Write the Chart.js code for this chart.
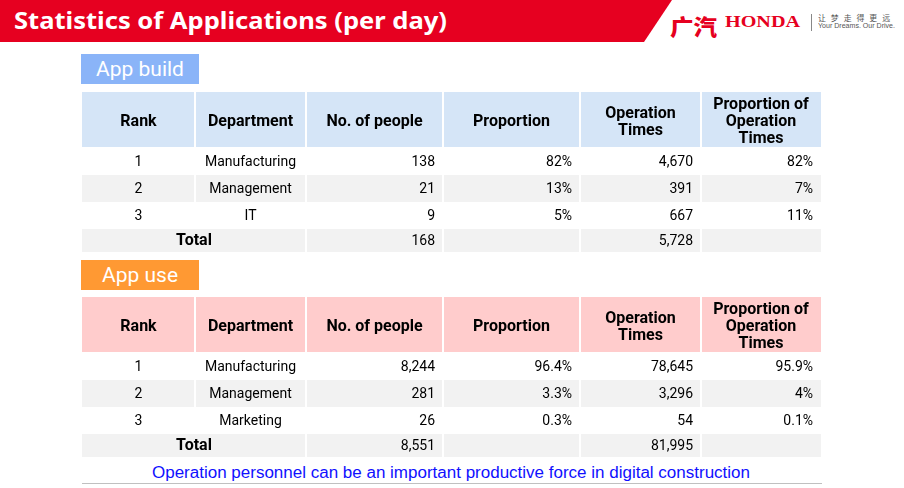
<!DOCTYPE html>
<html><head><meta charset="utf-8">
<script src="https://cdn.jsdelivr.net/npm/chart.js@4.4.1/dist/chart.umd.min.js"></script>
<style>
html,body{margin:0;padding:0;background:#fff;}
body{width:904px;height:488px;overflow:hidden;position:relative;font-family:Roboto,"Noto Sans",sans-serif;}
.abs{position:absolute;white-space:nowrap;}
#redbar{left:0;top:0;width:904px;height:42px;background:#E60020;clip-path:polygon(0 0,672px 0,644px 42px,0 42px);}
#title{left:14px;top:4px;color:#fff;font:bold 23px "Noto Sans",sans-serif;transform-origin:left top;}
#gac{left:670px;top:9px;color:#E60020;font:900 22px "Noto Sans CJK SC";transform-origin:left top;}
#honda{left:725px;top:12px;color:#E60020;font:bold 17px "Liberation Serif";transform-origin:left top;}
#sep{left:811px;top:14px;width:1px;height:17px;background:#888;}
#slog1{left:818px;top:12px;color:#555;font:8px "Noto Sans CJK SC";letter-spacing:5px;transform-origin:left top;}
#slog2{left:818px;top:22px;color:#555;font:7px "Liberation Sans";transform-origin:left top;}
.lab{left:81px;width:118px;height:30px;color:#fff;font:21px Roboto;text-align:center;line-height:30px;}
#lab1{top:54px;background:#8AB4F8;}
#lab2{top:260px;background:#FF9933;}
#foot{left:152px;top:464px;color:#1010FF;font:16px "Liberation Sans";transform-origin:left top;}
#footline{left:82px;top:483px;width:740px;height:1px;background:#C0C0C0;}
.tbl{left:82px;}
#t1{top:92px;}
#t2{top:297px;}
</style></head>
<body>
<div id="redbar" class="abs"></div>
<div id="title" class="abs">Statistics of Applications (per day)</div>
<div id="gac" class="abs">广汽</div>
<div id="honda" class="abs">HONDA</div>
<div id="sep" class="abs"></div>
<div id="slog1" class="abs">让梦走得更远</div>
<div id="slog2" class="abs">Your Dreams. Our Drive.</div>
<div id="lab1" class="abs lab">App build</div>
<div id="lab2" class="abs lab">App use</div>
<div id="t1" class="abs tbl"><canvas id="c1" width="739" height="160"></canvas></div>
<div id="t2" class="abs tbl"><canvas id="c2" width="739" height="160"></canvas></div>
<div id="foot" class="abs">Operation personnel can be an important productive force in digital construction</div>
<div id="footline" class="abs"></div>
<script>
// ---- data ----
const columns = ['Rank', 'Department', 'No. of people', 'Proportion', 'Operation\nTimes', 'Proportion of\nOperation\nTimes'];
const ranks = ['1', '2', '3'];
const totalLabel = 'Total';

const buildDepartments = ['Manufacturing', 'Management', 'IT'];
const buildPeople = [138, 21, 9];
const buildProportion = [82, 13, 5];
const buildOpTimes = [4670, 391, 667];
const buildOpProportion = [82, 7, 11];
const buildTotalPeople = 168;
const buildTotalOpTimes = 5728;

const useDepartments = ['Manufacturing', 'Management', 'Marketing'];
const usePeople = [8244, 281, 26];
const useProportion = [96.4, 3.3, 0.3];
const useOpTimes = [78645, 3296, 54];
const useOpProportion = [95.9, 4, 0.1];
const useTotalPeople = 8551;
const useTotalOpTimes = 81995;

// ---- layout (table geometry in scale units) ----
const colEdges = [0, 113, 224, 361, 498, 619, 739];
const rowEdges = [0, 56, 82, 111, 136, 160];

const fmt = v => v.toLocaleString('en-US');
function buildRows(depts, people, prop, ops, opProp, totPeople, totOps) {
  const rows = ranks.map((r, i) => [r, depts[i], fmt(people[i]), prop[i] + '%', fmt(ops[i]), opProp[i] + '%']);
  rows.push([totalLabel, null, fmt(totPeople), '', fmt(totOps), '']);
  return rows;
}

const tablePlugin = {
  id: 'tableCells',
  beforeDraw(chart, args, o) {
    const ctx = chart.ctx, xs = chart.scales.x, ys = chart.scales.y;
    const all = [o.header, ...o.rows];
    ctx.save();
    all.forEach((row, r) => {
      const y0 = ys.getPixelForValue(rowEdges[r]), y1 = ys.getPixelForValue(rowEdges[r + 1]);
      const bg = r === 0 ? o.headerColor : (r % 2 === 0 ? '#F2F2F2' : '#FFFFFF');
      let c = 0;
      while (c < row.length) {
        let span = 1;
        while (c + span < row.length && row[c + span] === null) span++;
        const x0 = xs.getPixelForValue(colEdges[c]), x1 = xs.getPixelForValue(colEdges[c + span]);
        ctx.fillStyle = bg;
        ctx.fillRect(x0, y0, x1 - x0, y1 - y0);
        ctx.fillStyle = '#FFFFFF';
        if (c > 0) ctx.fillRect(x0 - 1, y0, 2, y1 - y0);
        if (r > 0) ctx.fillRect(x0, y0 - 1, x1 - x0, 2);
        const txt = row[c];
        ctx.fillStyle = '#000';
        ctx.textBaseline = 'middle';
        if (r === 0) {
          ctx.font = 'bold 16px Roboto';
          ctx.textAlign = 'center';
          const lines = txt.split('\n');
          const lh = 17;
          const cy = (y0 + y1) / 2 + 2 - (lines.length - 1) * lh / 2;
          lines.forEach((l, i) => ctx.fillText(l, (x0 + x1) / 2, cy + i * lh));
        } else {
          const isTotal = r === all.length - 1 && c === 0;
          ctx.font = (isTotal ? 'bold 16px' : '14px') + ' Roboto';
          if (c < 2) {
            ctx.textAlign = 'center';
            ctx.fillText(txt, (x0 + x1) / 2, (y0 + y1) / 2 + 1);
          } else {
            ctx.textAlign = 'right';
            ctx.fillText(txt, x1 - 8, (y0 + y1) / 2 + 1);
          }
        }
        c += span;
      }
    });
    ctx.restore();
  }
};

function makeTable(id, rows, headerColor) {
  return new Chart(document.getElementById(id), {
    type: 'scatter',
    data: { datasets: [{ data: [] }] },
    options: {
      responsive: false, animation: false, devicePixelRatio: 1,
      layout: { padding: 0 },
      scales: {
        x: { type: 'linear', min: colEdges[0], max: colEdges[colEdges.length - 1], display: false },
        y: { type: 'linear', min: rowEdges[0], max: rowEdges[rowEdges.length - 1], reverse: true, display: false }
      },
      plugins: {
        legend: { display: false }, tooltip: { enabled: false },
        tableCells: { header: columns, rows: rows, headerColor: headerColor }
      }
    },
    plugins: [tablePlugin]
  });
}

makeTable('c1', buildRows(buildDepartments, buildPeople, buildProportion, buildOpTimes, buildOpProportion, buildTotalPeople, buildTotalOpTimes), '#D5E5F7');
makeTable('c2', buildRows(useDepartments, usePeople, useProportion, useOpTimes, useOpProportion, useTotalPeople, useTotalOpTimes), '#FFCCCC');

function fitWidth(id, w) {
  const el = document.getElementById(id);
  const r = el.getBoundingClientRect();
  el.style.transform = 'scaleX(' + (w / r.width) + ')';
}
fitWidth('title', 433);
fitWidth('gac', 47);
fitWidth('honda', 75);
fitWidth('slog1', 77);
fitWidth('slog2', 77);
fitWidth('foot', 598);
</script>
</body></html>
